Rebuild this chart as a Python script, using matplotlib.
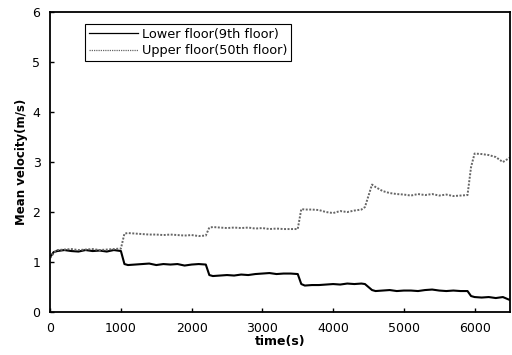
import matplotlib
matplotlib.use("Agg")
import matplotlib.pyplot as plt

plt.rcParams["font.family"] = ["DejaVu Sans"]

# time axis (s)
time = [0, 50, 100, 200, 300, 400, 500, 600, 700, 800, 900, 1000,
        1050, 1100, 1200, 1300, 1400, 1500, 1600, 1700, 1800, 1900, 2000, 2100, 2200,
        2250, 2300, 2400, 2500, 2600, 2700, 2800, 2900, 3000, 3100, 3200, 3300, 3400, 3500,
        3550, 3600, 3700, 3800, 3900, 4000, 4100, 4200, 4300, 4400, 4450,
        4550, 4600, 4700, 4800, 4900, 5000, 5100, 5200, 5300, 5400, 5500, 5600, 5700, 5800, 5900,
        5950, 6000, 6100, 6200, 6300, 6400, 6500]

# mean velocity, lower floor (9th floor)
lower_floor = [1.10, 1.20, 1.22, 1.24, 1.22, 1.21, 1.24, 1.22, 1.23, 1.21, 1.24, 1.22,
               0.96, 0.94, 0.95, 0.96, 0.97, 0.94, 0.96, 0.95, 0.96, 0.93, 0.95, 0.96, 0.95,
               0.74, 0.72, 0.73, 0.74, 0.73, 0.75, 0.74, 0.76, 0.77, 0.78, 0.76, 0.77, 0.77, 0.76,
               0.56, 0.53, 0.54, 0.54, 0.55, 0.56, 0.55, 0.57, 0.56, 0.57, 0.56,
               0.44, 0.42, 0.43, 0.44, 0.42, 0.43, 0.43, 0.42, 0.44, 0.45, 0.43, 0.42, 0.43, 0.42, 0.42,
               0.32, 0.30, 0.29, 0.30, 0.28, 0.30, 0.24]

# mean velocity, upper floor (50th floor)
upper_floor = [1.08, 1.18, 1.24, 1.25, 1.26, 1.24, 1.25, 1.26, 1.24, 1.25, 1.26, 1.27,
               1.57, 1.58, 1.57, 1.56, 1.55, 1.55, 1.54, 1.55, 1.54, 1.53, 1.54, 1.52, 1.53,
               1.69, 1.70, 1.69, 1.68, 1.69, 1.68, 1.69, 1.67, 1.68, 1.66, 1.67, 1.66, 1.66, 1.66,
               2.06, 2.05, 2.05, 2.04, 2.00, 1.98, 2.02, 2.00, 2.03, 2.05, 2.10,
               2.55, 2.50, 2.42, 2.38, 2.36, 2.35, 2.33, 2.36, 2.34, 2.36, 2.33, 2.35, 2.32, 2.33, 2.34,
               2.90, 3.17, 3.16, 3.14, 3.10, 3.00, 3.09]

fig = plt.figure(figsize=(5.12, 3.55), dpi=100)
ax = fig.add_axes([0.098, 0.121, 0.898, 0.845])

ax.plot(time, lower_floor, color="black", lw=1.5, label="Lower floor(9th floor)")
ax.plot(time, upper_floor, color="#666666", lw=1.4, linestyle=(0, (1, 0.8)),
        label="Upper floor(50th floor)")

ax.set_xlim(0, 6500)
ax.set_ylim(0, 6)
ax.set_xticks([0, 1000, 2000, 3000, 4000, 5000, 6000])
ax.set_yticks([0, 1, 2, 3, 4, 5, 6])
ax.tick_params(direction="in", length=3, width=1, labelsize=9, pad=7)
for s in ax.spines.values():
    s.set_linewidth(1.3)

ax.set_xlabel("time(s)", fontsize=9, fontweight="bold", labelpad=0)
ax.set_ylabel("Mean velocity(m/s)", fontsize=8.5, fontweight="bold", labelpad=3)

leg = ax.legend(loc="upper left", bbox_to_anchor=(0.076, 0.96), borderaxespad=0,
                fontsize=9.3, fancybox=False, framealpha=1, edgecolor="black",
                handlelength=3.8, handletextpad=0.3, borderpad=0.3, labelspacing=0.25)
leg.get_frame().set_linewidth(0.8)
for h in leg.get_lines():
    h.set_linewidth(0.9)

fig.savefig("out.png", dpi=100)
